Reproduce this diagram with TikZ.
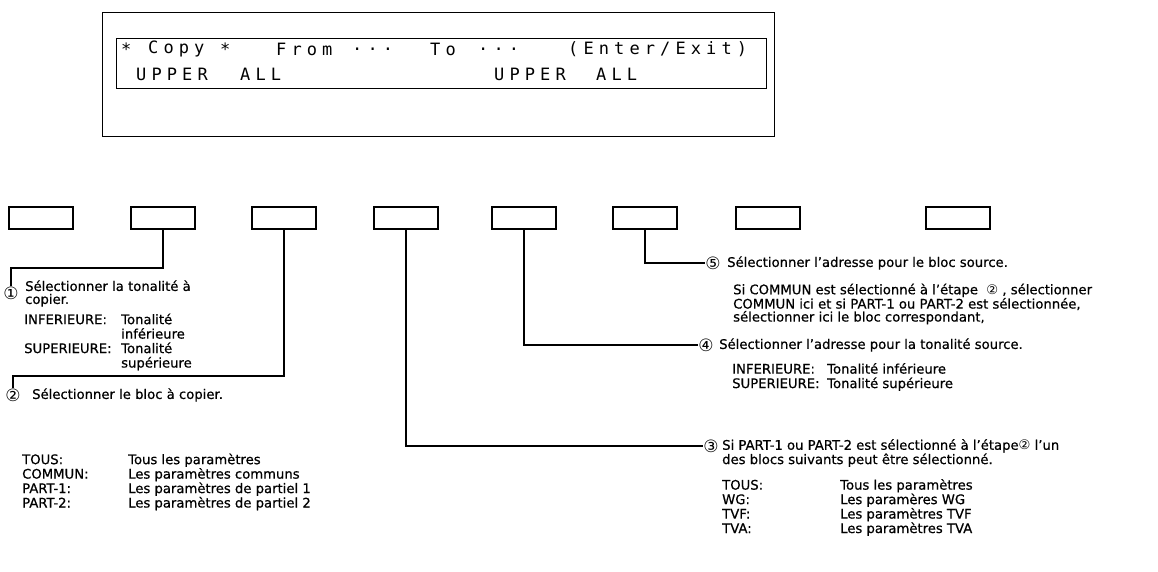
\documentclass[tikz,border=0pt]{standalone}
\usepackage{fontspec}
\setmainfont{DejaVu Sans}[FakeBold=0.6]
\newfontfamily\lcdfont{DejaVu Sans Mono}[LetterSpace=30]
\newfontfamily\numfamily{DejaVu Sans}
\newcommand\notefont{\fontsize{13.2}{13}\selectfont}
\newcommand\numfont{\numfamily\fontsize{17}{17}\selectfont}
\usetikzlibrary{positioning}

\begin{document}
\begin{tikzpicture}[x=1pt,y=-1pt,
  frame/.style={draw,line width=1.1pt},
  keybox/.style={draw,line width=1.3pt,minimum width=64pt,minimum height=22pt,inner sep=0pt},
  lcd/.style={anchor=west,inner sep=0pt,font=\lcdfont\fontsize{17}{17}\selectfont},
  note/.style={anchor=west,inner sep=0pt,align=left,font=\notefont},
  num/.style={inner sep=0pt,font=\numfont},
  wire/.style={line width=1.2pt}]
\useasboundingbox (0,0) rectangle (1158,572);

% display panel
\node[frame,minimum width=672pt,minimum height=124pt,anchor=north west] (panel) at (102,12) {};
\node[frame,minimum width=650pt,minimum height=50pt,anchor=north west] (screen) at (116,38) {};
\node[lcd] (s1) at (121,49) {*};
\node[lcd] (s2) at (148,49) {Copy};
\node[lcd] (s3) at (220,49) {*};
\node[lcd] (s4) at (276,49) {From};
\node[lcd] (s5) at (352,49) {...};
\node[lcd] (s6) at (430,49) {To};
\node[lcd] (s7) at (478,49) {...};
\node[lcd] (s8) at (568,49) {(Enter/Exit)};
\node[lcd] (u1) at (136,74) {UPPER};
\node[lcd] (a1) at (240,74) {ALL};
\node[lcd] (u2) at (494,74) {UPPER};
\node[lcd] (a2) at (596,74) {ALL};

% keys
\node[keybox] (k1) at (41,218) {};
\node[keybox] (k2) at (163,218) {};
\node[keybox] (k3) at (284,218) {};
\node[keybox] (k4) at (406,218) {};
\node[keybox] (k5) at (524,218) {};
\node[keybox] (k6) at (645,218) {};
\node[keybox] (k7) at (768,218) {};
\node[keybox] (k8) at (958,218) {};

% step 1
\node[num] (c1) at (11,293) {①};
\node[note] (t1) at (25,293.5) {Sélectionner la tonalité à\\copier.};
\node[note] (l1) at (24,342.5) {\begin{tabular}{@{}p{97pt}@{}l@{}}
INFERIEURE: & Tonalité\\ & inférieure\\
SUPERIEURE: & Tonalité\\ & supérieure\end{tabular}};

% step 2
\node[num] (c2) at (13,395) {②};
\node[note] (t2) at (32,395) {Sélectionner le bloc à copier.};
\node[note] (l2) at (22,482.5) {\begin{tabular}{@{}p{106pt}@{}l@{}}
TOUS: & Tous les paramètres\\
COMMUN: & Les paramètres communs\\
PART-1: & Les paramètres de partiel 1\\
PART-2: & Les paramètres de partiel 2\end{tabular}};

% step 3
\node[num] (c3) at (711,446) {③};
\node[note] (t3) at (722,453) {Si PART-1 ou PART-2 est sélectionné à l'étape{\numfamily②} l'un\\des blocs suivants peut être sélectionné.};
\node[note] (l3) at (722,508) {\begin{tabular}{@{}p{118pt}@{}l@{}}
TOUS: & Tous les paramètres\\
WG: & Les paramères WG\\
TVF: & Les paramètres TVF\\
TVA: & Les paramètres TVA\end{tabular}};

% step 4
\node[num] (c4) at (706,345) {④};
\node[note] (t4) at (719,345) {Sélectionner l'adresse pour la tonalité source.};
\node[note] (l4) at (732,377.5) {\begin{tabular}{@{}p{95pt}@{}l@{}}
INFERIEURE: & Tonalité inférieure\\
SUPERIEURE: & Tonalité supérieure\end{tabular}};

% step 5
\node[num] (c5) at (713,263) {⑤};
\node[note] (t5) at (727,263) {Sélectionner l'adresse pour le bloc source.};
\node[note] (p5) at (733,304) {Si COMMUN est sélectionné à l'étape \ {\numfamily②} , sélectionner\\COMMUN ici et si PART-1 ou PART-2 est sélectionnée,\\sélectionner ici le bloc correspondant,};

% leaders
\draw[wire] (k2.south) -- (k2.south |- 0,268) -| (c1.north);
\draw[wire] (k3.south) -- (k3.south |- 0,376) -| (c2.north);
\draw[wire] (k4.south) |- (c3.west);
\draw[wire] (k5.south) |- (c4.west);
\draw[wire] (k6.south) |- (c5.west);
\end{tikzpicture}
\end{document}
